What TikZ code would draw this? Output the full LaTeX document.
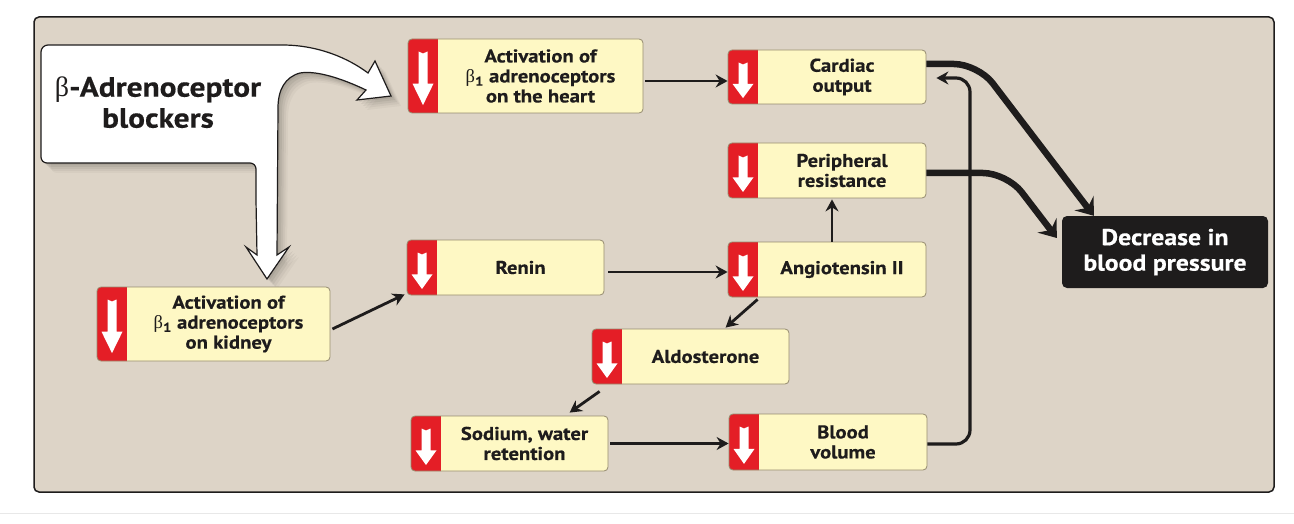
\documentclass[tikz,border=0pt]{standalone}
\usepackage{fontspec}
\setmainfont{PT Sans}[FakeStretch=1.12, BoldFeatures={FakeBold=0.4}]
\newfontfamily\grk{Liberation Serif}
\usetikzlibrary{arrows.meta,calc}
\definecolor{panelbg}{RGB}{221,212,199}
\definecolor{boxfill}{RGB}{254,248,196}
\definecolor{boxline}{RGB}{150,140,112}
\definecolor{stripred}{RGB}{228,30,38}
\definecolor{ink}{RGB}{30,28,28}
\newcommand\pp[2]{([xshift=#1pt,yshift=-#2pt]path picture bounding box.north west)}
\newcommand\redstrip[1]{%
  \pgfmathsetmacro\tipy{0.9*#1-0.5}%
  \pgfmathsetmacro\basey{\tipy-0.4*(\tipy-12.5)}%
  \pgfmathsetmacro\boty{#1+2}%
  \begin{scope}[sharp corners]
    \fill[stripred] \pp{-2}{-2} rectangle \pp{30}{\boty};
    \fill[white] \pp{10.5}{12.5} -- \pp{15}{14.5} -- \pp{19.5}{12.5} -- \pp{19.5}{\basey} -- \pp{25.5}{\basey}
      -- \pp{15}{\tipy} -- \pp{4.5}{\basey} -- \pp{10.5}{\basey} -- cycle;
  \end{scope}}
\def\blockpath{(41,100) [rounded corners=7] -- (41,45) -- (275,45) [sharp corners]
  .. controls (318,45) and (348,58) .. (368,73) -- (375,61) -- (391,96) -- (357,100) -- (366,90)
  .. controls (345,80) and (318,70) .. (300,73) .. controls (285,77) and (278,90) .. (278,108)
  -- (277,255) -- (289,247) -- (267,279) -- (246,247) -- (257,255) -- (256,200)
  [rounded corners=6] -- (256,163) -- (41,163) -- cycle}
\begin{document}
\begin{tikzpicture}[x=1pt,y=-1pt,
  ybox/.style={draw=boxline, line width=0.8pt, fill=boxfill, rounded corners=4pt,
    minimum height=#1, inner sep=0pt, path picture={\redstrip{#1}}},
  txt/.style={font=\bfseries\fontsize{18.5}{20}\selectfont, text=ink, align=center, inner sep=0pt},
  flowarrow/.style={line width=2.8pt, draw=ink, -{Stealth[length=12pt,width=13pt,inset=4pt]}},
  bigarrow/.style={line width=6.5pt, draw=ink, rounded corners=24pt, -{Stealth[length=16pt,width=24pt,inset=6pt]}},
  looparrow/.style={line width=3.2pt, draw=ink, rounded corners=14pt, -{Stealth[length=12pt,width=13pt,inset=4pt]}}
]
\useasboundingbox (0,0) rectangle (1294,524);
\fill[white] (0,0) rectangle (1294,524);
\draw[gray!18, line width=1pt] (0,513) -- (1294,513);
% panel
\draw[fill=panelbg, draw=ink, line width=1.5pt, rounded corners=5pt] (34,17) rectangle (1274,492);
% blockers shape with soft shadow
\foreach \s/\o in {10/0.03, 8/0.04, 6/0.05, 4/0.06, 2/0.06}
  \fill[black, opacity=\o] [shift={(\s,\s)}] \blockpath;
\draw[fill=white, draw=ink, line width=1.2pt] \blockpath;
\node[font=\bfseries\fontsize{28}{31}\selectfont, text=ink, align=center, inner sep=0pt] (blk) at (158,102.5)
  {{\grk\mdseries β}-Adrenoceptor\\blockers};
% boxes
\node[ybox=74, minimum width=235] (heart) at (525.5,76) {};
\node[txt] (heart-t) at ([xshift=15pt]heart.center) {Activation of\\{\grk\mdseries β}\textsubscript{1} adrenoceptors\\on the heart};
\node[ybox=54, minimum width=198] (cardiac) at (827,77) {};
\node[txt] (cardiac-t) at ([xshift=15pt]cardiac.center) {Cardiac\\output};
\node[ybox=55, minimum width=198] (periph) at (827,170.5) {};
\node[txt] (periph-t) at ([xshift=15pt]periph.center) {Peripheral\\resistance};
\node[ybox=55, minimum width=197] (renin) at (505.5,267.5) {};
\node[txt] (renin-t) at ([xshift=15pt]renin.center) {Renin};
\node[ybox=55, minimum width=198] (angio) at (827,269.5) {};
\node[txt] (angio-t) at ([xshift=15pt]angio.center) {Angiotensin II};
\node[ybox=74, minimum width=233] (kidney) at (213.5,324) {};
\node[txt] (kidney-t) at ([xshift=15pt]kidney.center) {Activation of\\{\grk\mdseries β}\textsubscript{1} adrenoceptors\\on kidney};
\node[ybox=55, minimum width=197] (aldo) at (690.5,356.5) {};
\node[txt] (aldo-t) at ([xshift=15pt]aldo.center) {Aldosterone};
\node[ybox=55, minimum width=197] (sodium) at (509.5,443.5) {};
\node[txt] (sodium-t) at ([xshift=15pt]sodium.center) {Sodium, water\\retention};
\node[ybox=56, minimum width=198] (blood) at (828,442) {};
\node[txt] (blood-t) at ([xshift=15pt]blood.center) {Blood\\volume};
\node[fill=ink, rounded corners=5pt, minimum width=206, minimum height=72, inner sep=0pt,
  text=white, align=center, font=\bfseries\fontsize{23}{25.5}\selectfont] (decrease) at (1165,252)
  {Decrease in\\blood pressure};
% connectors
\draw[flowarrow] ([xshift=2pt,yshift=-5pt]heart.east) -- ([yshift=-4pt]cardiac.west);
\draw[flowarrow] ([xshift=2pt,yshift=-5pt]kidney.east) -- ([xshift=-2pt,yshift=1pt]renin.south west);
\draw[flowarrow] ([xshift=4pt,yshift=-4.5pt]renin.east) -- ([yshift=-2.5pt]angio.west);
\draw[flowarrow] ([xshift=5pt]angio.north) -- ([xshift=5pt,yshift=-1pt]periph.south);
\draw[flowarrow] ([xshift=30pt,yshift=-2pt]angio.south west) -- ([xshift=134pt,yshift=1pt]aldo.north west);
\draw[flowarrow] ([xshift=8pt,yshift=-7pt]aldo.south west) -- ([xshift=159pt,yshift=3pt]sodium.north west);
\draw[flowarrow] ([xshift=2pt]sodium.east) -- (blood.west |- sodium.east);
\coordinate (cbend) at (978,64);
\coordinate (pbend) at (1007,173);
\coordinate (lpb) at (970,444);
\coordinate (lpt) at (970,78);
\draw[looparrow] ([yshift=-2pt]blood.east) -- (lpb) -- (lpt) -- ([xshift=10pt,yshift=-1pt]cardiac.east);
\draw[bigarrow] ([yshift=13pt]cardiac.east) -- (cbend) -- ([xshift=32pt]decrease.north west);
\draw[bigarrow] ([yshift=-2.5pt]periph.east) -- (pbend) -- ([xshift=-5pt,yshift=14pt]decrease.west);
\end{tikzpicture}
\end{document}
